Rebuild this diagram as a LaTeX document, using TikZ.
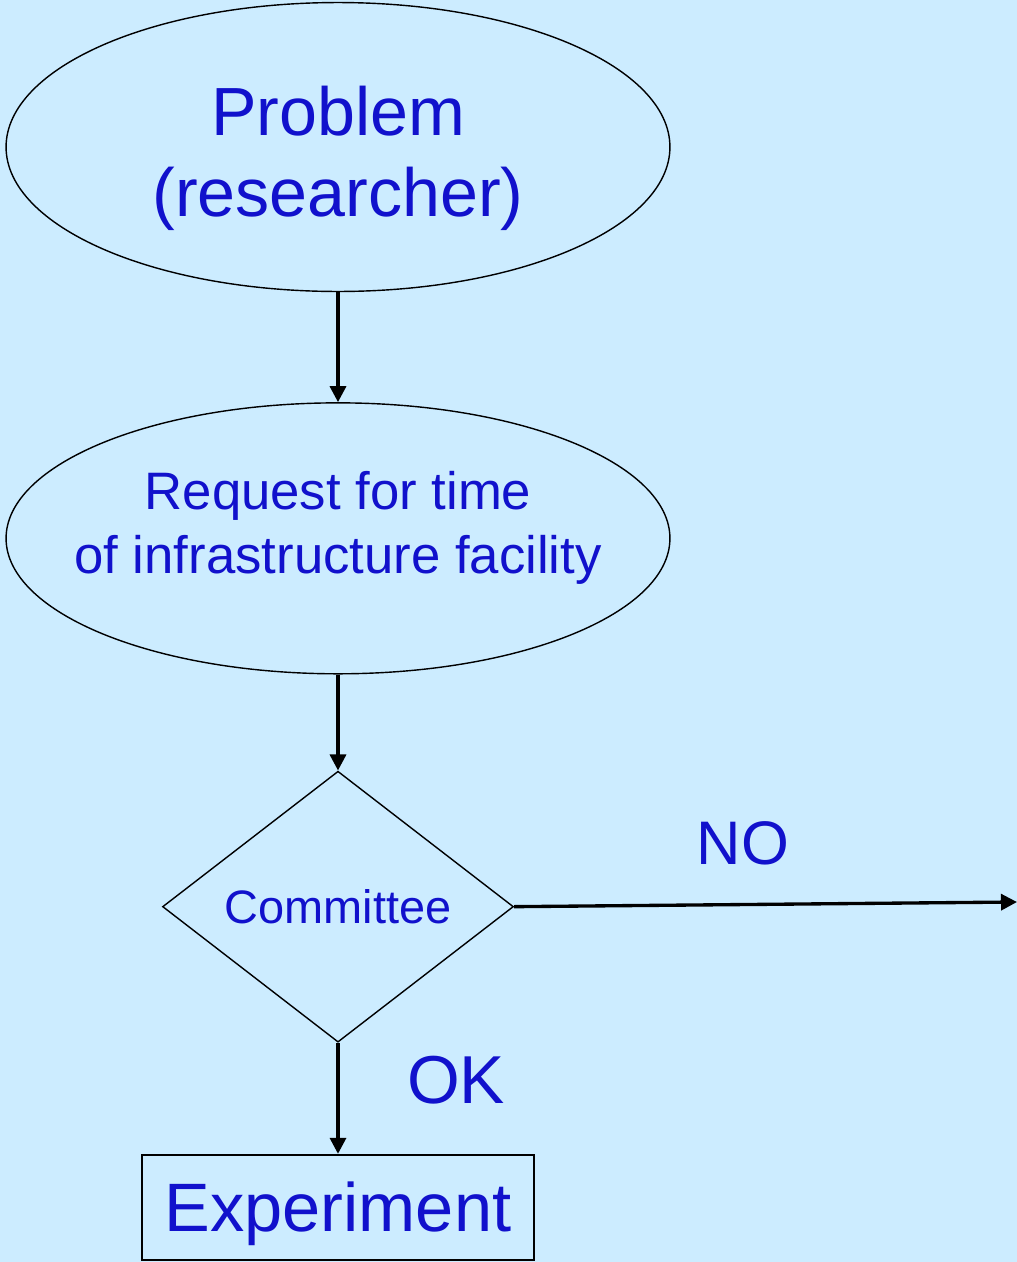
\documentclass[tikz,border=0pt]{standalone}
\usepackage{fontspec}
\setmainfont{Liberation Sans}
\usetikzlibrary{arrows.meta,positioning,shapes.geometric}
\definecolor{bgblue}{RGB}{204,236,255}
\definecolor{txtblue}{RGB}{17,17,204}
\tikzset{
 oval/.style={draw,ellipse,inner sep=0pt,align=center,text=txtblue,
             minimum width=13.28cm,line width=0.8pt},
 decision/.style={draw,diamond,inner sep=0pt,align=center,text=txtblue,
             minimum width=7.02cm,minimum height=5.42cm,line width=0.8pt},
 box/.style={draw,inner sep=0pt,align=center,text=txtblue,
             minimum width=7.84cm,minimum height=2.1cm,line width=1.1pt},
 lbl/.style={text=txtblue,inner sep=0pt},
 arrow/.style={-{Triangle[length=3.2mm,width=3.2mm]},line width=1.9pt}
}

\begin{document}
\begin{tikzpicture}[x=0.02cm,y=-0.02cm]
\fill[bgblue] (0,0) rectangle (1017,1262);
\useasboundingbox (0,0) rectangle (1017,1262);
\node[oval,minimum height=5.78cm,font=\fontsize{38.8}{46.5}\selectfont] (prob) at (338,147)
  {\rule{0pt}{41pt}Problem\\(researcher)};
\node[oval,minimum height=5.42cm,inner xsep=-0.75cm,font=\fontsize{30}{36}\selectfont,
  below=2.2cm of prob] (req) {Request for time\\of infrastructure facility\rule[-18pt]{0pt}{0pt}};
\node[decision,font=\fontsize{26.7}{32}\selectfont,below=1.92cm of req] (com) {Committee};
\node[box,font=\fontsize{39}{47}\selectfont,below=2.22cm of com] (exp) {\rule{0pt}{36pt}Experiment};
\coordinate (out) at (1017,902);
\node[lbl,font=\fontsize{35}{42}\selectfont] (no) at (743,843) {NO};
\node[lbl,font=\fontsize{38.6}{46}\selectfont] (ok) at (456,1080) {OK};
\draw[arrow] (prob)--(req);
\draw[arrow] (req)--(com);
\draw[arrow] (com.east)--(out);
\draw[arrow] (com)--(exp);
\end{tikzpicture}
\end{document}
